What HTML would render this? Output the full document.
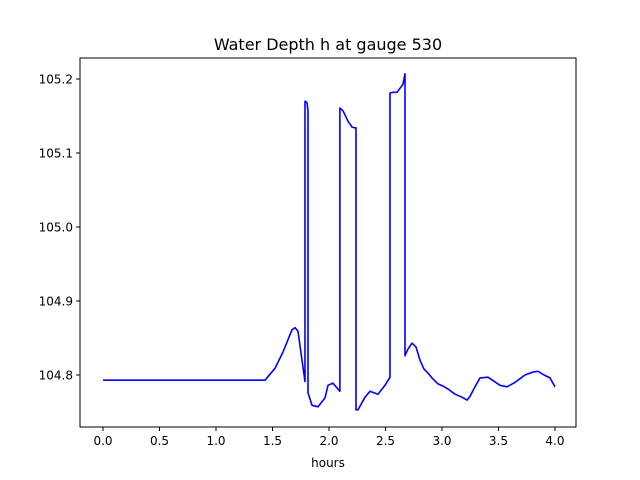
<!DOCTYPE html>
<html><head><meta charset="utf-8"><style>
html,body{margin:0;padding:0;background:#fff;}
svg{display:block;font-family:"DejaVu Sans","Liberation Sans",sans-serif;}
</style></head><body>
<svg id="chart" width="640" height="480" viewBox="0 0 640 480">
<rect x="0" y="0" width="640" height="480" fill="#fff"/>
<text x="328" y="50" font-size="16" text-anchor="middle" fill="#000">Water Depth h at gauge 530</text>
<g id="plot"></g>
<rect x="80" y="58" width="496" height="369" fill="none" stroke="#000" stroke-width="1"/>
<text x="328" y="467" font-size="12" text-anchor="middle" fill="#000">hours</text>
</svg>
<script>
const hours=[0,1.434,1.522,1.593,1.673,1.699,1.726,1.788,1.788,1.805,1.814,1.814,1.850,1.903,1.965,1.991,2.035,2.097,2.097,2.124,2.168,2.204,2.230,2.239,2.239,2.257,2.319,2.363,2.434,2.496,2.540,2.540,2.566,2.602,2.655,2.673,2.673,2.699,2.735,2.770,2.805,2.841,2.867,2.912,2.965,3.009,3.053,3.115,3.177,3.221,3.248,3.292,3.336,3.407,3.513,3.575,3.646,3.735,3.805,3.850,3.903,3.956,4.0];
const depth=[104.793,104.793,104.809,104.831,104.861,104.864,104.859,104.791,105.170,105.168,105.157,104.776,104.759,104.757,104.769,104.786,104.789,104.778,105.161,105.157,105.143,105.135,105.134,105.134,104.753,104.753,104.770,104.778,104.774,104.786,104.797,105.181,105.182,105.182,105.193,105.207,104.826,104.835,104.843,104.838,104.820,104.808,104.804,104.796,104.788,104.785,104.781,104.774,104.770,104.766,104.771,104.784,104.796,104.797,104.786,104.784,104.790,104.800,104.804,104.805,104.800,104.796,104.784];
const xTicks=[0,0.5,1,1.5,2,2.5,3,3.5,4];
const xTickLabels=["0.0","0.5","1.0","1.5","2.0","2.5","3.0","3.5","4.0"];
const yTicks=[104.8,104.9,105.0,105.1,105.2];
const yTickLabels=["104.8","104.9","105.0","105.1","105.2"];
const X0=80,X1=576,Y0=58,Y1=427;
const xmin=-0.2035,xmax=4.186,ymin=104.7297,ymax=105.2284;
const sx=v=>X0+(v-xmin)/(xmax-xmin)*(X1-X0);
const sy=v=>Y1-(v-ymin)/(ymax-ymin)*(Y1-Y0);
const NS="http://www.w3.org/2000/svg";
const g=document.getElementById('plot');
function mk(t,a){const e=document.createElementNS(NS,t);for(const k in a)e.setAttribute(k,a[k]);return e;}
xTicks.forEach((v,i)=>{
  const l=mk('line',{x1:sx(v),x2:sx(v),y1:Y1,y2:Y1+4,stroke:'#000'});
  
  
  g.appendChild(l);
  const t=mk('text',{x:sx(v),y:Y1+18,'font-size':12,'text-anchor':'middle',fill:'#000'});
  
  
  t.textContent=xTickLabels[i];g.appendChild(t);
});
yTicks.forEach((v,i)=>{
  const l=mk('line',{x1:X0-4,x2:X0,y1:sy(v),y2:sy(v),stroke:'#000'});
  
  
  g.appendChild(l);
  const t=mk('text',{x:X0-7,y:sy(v)+4.5,'font-size':12,'text-anchor':'end',fill:'#000'});
  
  
  t.textContent=yTickLabels[i];g.appendChild(t);
});
const pts=hours.map((h,i)=>sx(h).toFixed(1)+','+sy(depth[i]).toFixed(1)).join(' ');
const pl=mk('polyline',{points:pts,fill:'none',stroke:'#0000ff','stroke-width':1.6,'stroke-linejoin':'round'});


g.appendChild(pl);
</script>
</body></html>
